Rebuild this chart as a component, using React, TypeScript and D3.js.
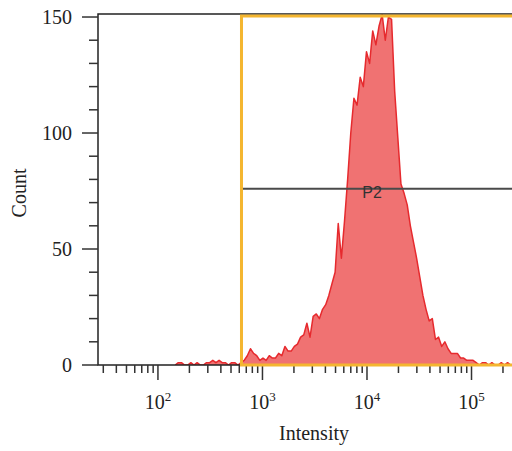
import React, { useEffect, useRef } from "react";
import * as d3 from "d3";

const width = 512;
const height = 451;

// histogram channels: log-spaced bins, lower edge at 10^(binLogStart + i*binLogStep)
const binLogStart = 2.15;
const binLogStep = 0.03;
const counts = [
  0, 1, 1, 0, 0, 1, 0, 1, 0, 0, 1, 1, 2, 1, 2, 1, 1, 0, 1, 1,
  0, 1, 2, 4, 7, 5, 4, 2, 3, 2, 4, 3, 3, 5, 4, 8, 6, 6, 8, 9,
  12, 13, 18, 12, 21, 22, 20, 24, 26, 30, 35, 40, 61, 46, 62, 80, 100, 115, 112, 124,
  120, 135, 130, 144, 138, 146, 151, 140, 150, 149, 118, 98, 78, 74, 69, 60, 53, 46, 38, 30,
  24, 19, 20, 11, 12, 8, 10, 7, 5, 5, 5, 3, 3, 2, 2, 2, 1, 0, 1, 1,
  0, 1, 0, 0, 1, 0, 1, 0,
];

const xDomain = [26.7, 244000];
const yDomain = [0, 151.3];
const xTickExps = [2, 3, 4, 5];
const yTicks = [0, 50, 100, 150];
const gateLow = 630;
const markerCount = 76;
const markerLabel = "P2";

export default function App() {
  const chartRef = useRef<HTMLDivElement>(null);

  useEffect(() => {
    document.body.style.margin = "0";
    const root = d3.select(chartRef.current);
    root.selectAll("*").remove();

    const left = 98,
      right = 512,
      top = 14,
      bottom = 365;

    const x = d3.scaleLog().domain(xDomain).range([left, right]);
    const y = d3.scaleLinear().domain(yDomain).range([bottom, top]);

    const svg = root
      .append("svg")
      .attr("width", width)
      .attr("height", height)
      .style("display", "block");

    svg
      .append("clipPath")
      .attr("id", "plot-clip")
      .append("rect")
      .attr("x", left)
      .attr("y", top)
      .attr("width", right - left)
      .attr("height", bottom - top);

    // bin centres
    const bins = counts.map((c, i) => ({
      mid: Math.pow(10, binLogStart + (i + 0.5) * binLogStep),
      c,
    }));

    const cap = (v: number) => Math.min(v, yDomain[1]);

    const area = d3
      .area<{ mid: number; c: number }>()
      .x((d) => x(d.mid))
      .y0(y(0))
      .y1((d) => y(cap(d.c)));

    const line = d3
      .line<{ mid: number; c: number }>()
      .x((d) => x(d.mid))
      .y((d) => y(cap(d.c)));

    const g = svg.append("g").attr("clip-path", "url(#plot-clip)");
    g.append("path").attr("d", area(bins)).attr("fill", "#f07272");
    g.append("path")
      .attr("d", line(bins))
      .attr("fill", "none")
      .attr("stroke", "#e62a2e")
      .attr("stroke-width", 1.5)
      .attr("stroke-linejoin", "round");

    // frame: left axis, top border, bottom axis
    const ink = "#333";
    svg
      .append("path")
      .attr("d", `M${right},${top}H${left}V${bottom}H${right}`)
      .attr("fill", "none")
      .attr("stroke", "#222")
      .attr("stroke-width", 1.5);

    // y ticks
    const yMinor = d3.range(0, 151, 10);
    svg
      .selectAll(".ytick")
      .data(yMinor)
      .enter()
      .append("line")
      .attr("x1", (d) => (d % 50 === 0 ? left - 16 : left - 9))
      .attr("x2", left)
      .attr("y1", (d) => y(d))
      .attr("y2", (d) => y(d))
      .attr("stroke", ink)
      .attr("stroke-width", 1.5);

    svg
      .selectAll(".ylab")
      .data(yTicks)
      .enter()
      .append("text")
      .attr("x", 72)
      .attr("y", (d) => y(d))
      .attr("dy", "0.35em")
      .attr("text-anchor", "end")
      .attr("font-family", "'Liberation Serif', serif")
      .attr("font-size", 20)
      .attr("fill", "#222")
      .text((d) => d);

    // x ticks (log, minor 2..9 per decade)
    const xMinor: number[] = [];
    for (let e = 1; e <= 5; e++) {
      for (let m = 1; m <= 9; m++) {
        const v = m * Math.pow(10, e);
        if (v >= xDomain[0] && v <= xDomain[1]) xMinor.push(v);
      }
    }
    svg
      .selectAll(".xtick")
      .data(xMinor)
      .enter()
      .append("line")
      .attr("x1", (d) => x(d))
      .attr("x2", (d) => x(d))
      .attr("y1", bottom)
      .attr("y2", (d) =>
        Math.abs(Math.log10(d) - Math.round(Math.log10(d))) < 1e-9
          ? bottom + 15
          : bottom + 8
      )
      .attr("stroke", ink)
      .attr("stroke-width", 1.5);

    const xl = svg
      .selectAll(".xlab")
      .data(xTickExps)
      .enter()
      .append("text")
      .attr("x", (d) => x(Math.pow(10, d)))
      .attr("y", 409)
      .attr("text-anchor", "middle")
      .attr("font-family", "'Liberation Serif', serif")
      .attr("font-size", 20)
      .attr("fill", "#222");
    xl.append("tspan").text("10");
    xl.append("tspan")
      .attr("dy", -8)
      .attr("font-size", 13)
      .text((d) => d);

    // gate
    const gx = x(gateLow);
    svg
      .append("path")
      .attr("d", `M${right + 5},${16}H${gx}V${bottom}H${right + 5}`)
      .attr("fill", "none")
      .attr("stroke", "#f4b630")
      .attr("stroke-width", 3);

    // marker line
    svg
      .append("line")
      .attr("x1", gx + 1.5)
      .attr("x2", right)
      .attr("y1", y(markerCount))
      .attr("y2", y(markerCount))
      .attr("stroke", "#4a4a4a")
      .attr("stroke-width", 2);

    svg
      .append("text")
      .attr("x", 372)
      .attr("y", 198)
      .attr("text-anchor", "middle")
      .attr("font-family", "'Liberation Sans', Arial, sans-serif")
      .attr("font-size", 16)
      .attr("fill", "#333")
      .text(markerLabel);

    // axis titles
    svg
      .append("text")
      .attr("transform", "translate(26,193) rotate(-90)")
      .attr("text-anchor", "middle")
      .attr("font-family", "'Liberation Serif', serif")
      .attr("font-size", 20)
      .attr("fill", "#222")
      .text("Count");

    svg
      .append("text")
      .attr("x", 314)
      .attr("y", 440)
      .attr("text-anchor", "middle")
      .attr("font-family", "'Liberation Serif', serif")
      .attr("font-size", 20)
      .attr("fill", "#222")
      .text("Intensity");
  }, []);

  return <div ref={chartRef}></div>;
}
